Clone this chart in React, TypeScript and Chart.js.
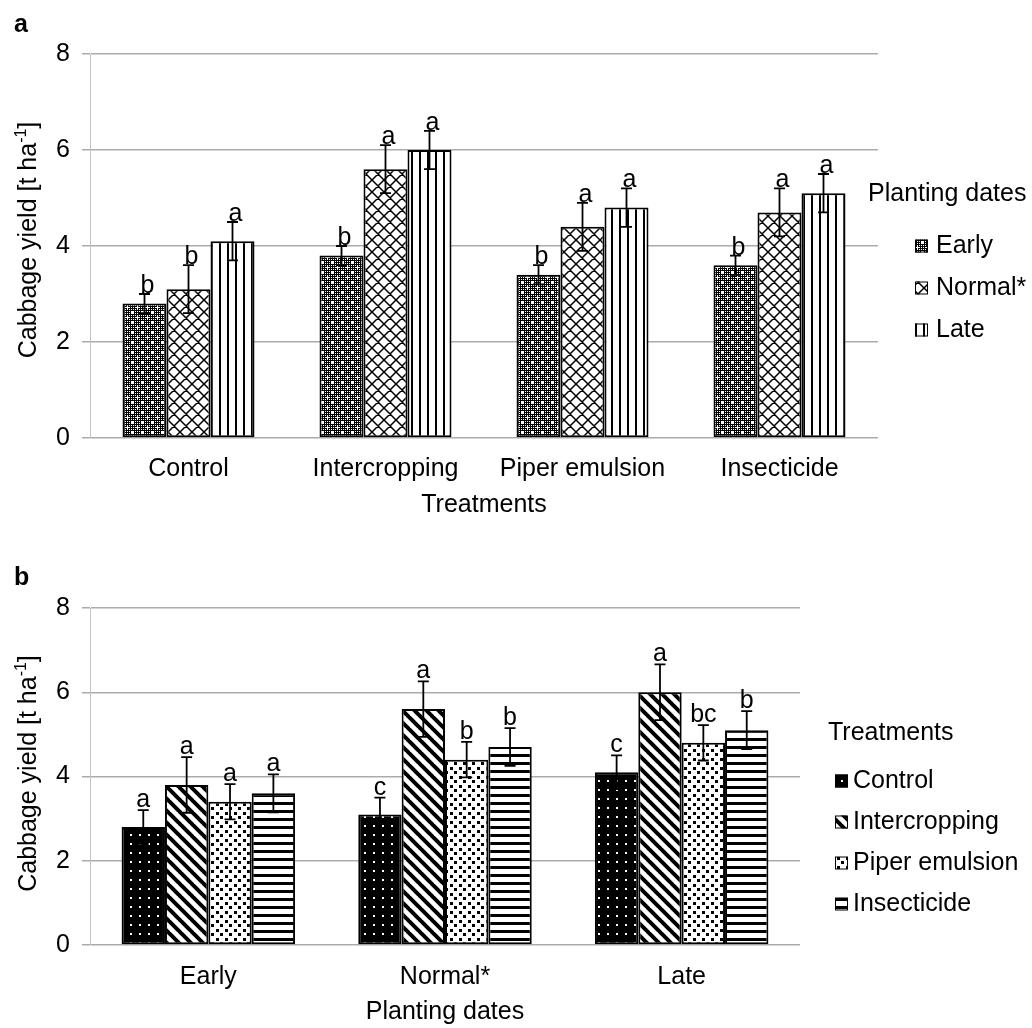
import React, { useEffect, useRef } from 'react';
import { Chart, registerables } from 'chart.js';

Chart.register(...registerables);

const FONT = '"Liberation Sans", Arial, Helvetica, sans-serif';

// ---- data ----
const treatments = ['Control', 'Intercropping', 'Piper emulsion', 'Insecticide'];
const plantingDates = ['Early', 'Normal*', 'Late'];
const yTicks = [0, 2, 4, 6, 8];

// yields by planting date (one value per treatment)
const earlyYield = [2.8, 3.8, 3.4, 3.6];
const normalYield = [3.1, 5.6, 4.4, 4.7];
const lateYield = [4.1, 6.0, 4.8, 5.1];

// panel a error bars (per planting date) and letters
const earlyErrA = [0.2, 0.2, 0.2, 0.2];
const normalErrA = [0.5, 0.5, 0.5, 0.5];
const lateErrA = [0.4, 0.4, 0.4, 0.4];
const earlyLettersA = ['b', 'b', 'b', 'b'];
const normalLettersA = ['b', 'a', 'a', 'a'];
const lateLettersA = ['a', 'a', 'a', 'a'];

// panel b error bars (per treatment) and letters (per planting date)
const controlErrB = [0.4, 0.4, 0.4];
const intercropErrB = [0.66, 0.66, 0.66];
const piperErrB = [0.42, 0.42, 0.42];
const insectErrB = [0.45, 0.45, 0.45];
const controlLettersB = ['a', 'c', 'c'];
const intercropLettersB = ['a', 'a', 'a'];
const piperLettersB = ['a', 'b', 'bc'];
const insectLettersB = ['a', 'b', 'b'];

const yieldsByDate = [earlyYield, normalYield, lateYield];
const byTreatment = (t: number) => yieldsByDate.map((arr) => arr[t]);

// ---- patterns ----
function tile(w: number, h: number, draw: (g: CanvasRenderingContext2D) => void): CanvasPattern {
  const c = document.createElement('canvas');
  c.width = w;
  c.height = h;
  const g = c.getContext('2d')!;
  draw(g);
  return g.createPattern(c, 'repeat')!;
}

function makePatterns() {
  const early = tile(10, 10, (g) => {
    g.fillStyle = '#000';
    g.fillRect(0, 0, 10, 10);
    g.fillStyle = '#fff';
    for (let y = 0; y < 10; y++) for (let x = 0; x < 10; x++) if (x % 2 === 1 && y % 2 === 1) g.fillRect(x, y, 1, 1);
    for (const [cx, cy] of [[2, 2], [7, 7]]) {
      g.fillRect(cx - 1, cy, 3, 1);
      g.fillRect(cx, cy - 1, 1, 3);
    }
  });
  const normal = tile(12, 12, (g) => {
    g.fillStyle = '#fff';
    g.fillRect(0, 0, 12, 12);
    g.strokeStyle = '#000';
    g.lineWidth = 1.5;
    g.beginPath();
    for (const o of [-12, 0, 12]) {
      g.moveTo(o, 0);
      g.lineTo(o + 12, 12);
      g.moveTo(o + 12, 0);
      g.lineTo(o, 12);
    }
    g.stroke();
  });
  const late = tile(8, 8, (g) => {
    g.fillStyle = '#fff';
    g.fillRect(0, 0, 8, 8);
    g.fillStyle = '#000';
    g.fillRect(3, 0, 2, 8);
  });
  const control = tile(9, 9, (g) => {
    g.fillStyle = '#000';
    g.fillRect(0, 0, 9, 9);
    g.fillStyle = '#fff';
    g.fillRect(4, 4, 2, 2);
  });
  const intercrop = tile(12, 12, (g) => {
    g.fillStyle = '#fff';
    g.fillRect(0, 0, 12, 12);
    g.strokeStyle = '#000';
    g.lineWidth = 4;
    g.beginPath();
    for (const o of [-12, 0, 12]) {
      g.moveTo(o - 1, -1);
      g.lineTo(o + 13, 13);
    }
    g.stroke();
  });
  const piper = tile(9, 9, (g) => {
    g.fillStyle = '#fff';
    g.fillRect(0, 0, 9, 9);
    g.fillStyle = '#000';
    g.fillRect(0, 0, 3, 3);
    g.fillRect(4, 4, 3, 3);
  });
  const insect = tile(8, 8, (g) => {
    g.fillStyle = '#fff';
    g.fillRect(0, 0, 8, 8);
    g.fillStyle = '#000';
    g.fillRect(0, 2, 8, 3);
  });
  return { early, normal, late, control, intercrop, piper, insect };
}

// ---- plugins ----
const errBarsPlugin = {
  id: 'errBars',
  afterDatasetsDraw(chart: any, _args: any, o: any) {
    const ctx = chart.ctx;
    const ys = chart.scales.y;
    chart.data.datasets.forEach((ds: any, i: number) => {
      const meta = chart.getDatasetMeta(i);
      meta.data.forEach((el: any, j: number) => {
        const v = ds.data[j];
        const e = ds.errors[j];
        const yt = ys.getPixelForValue(v + e);
        const yb = ys.getPixelForValue(v - e);
        ctx.save();
        ctx.strokeStyle = '#000';
        ctx.lineWidth = 1.8;
        ctx.beginPath();
        ctx.moveTo(el.x, yt);
        ctx.lineTo(el.x, yb);
        ctx.moveTo(el.x - 5.5, yt);
        ctx.lineTo(el.x + 5.5, yt);
        ctx.moveTo(el.x - 5.5, yb);
        ctx.lineTo(el.x + 5.5, yb);
        ctx.stroke();
        ctx.fillStyle = '#000';
        ctx.font = `25px ${FONT}`;
        ctx.textAlign = 'center';
        ctx.textBaseline = 'alphabetic';
        ctx.fillText(ds.letters[j], el.x + o.letterDx, yt - o.letterGap);
        ctx.restore();
      });
    });
  },
};

const decorPlugin = {
  id: 'decor',
  afterDraw(chart: any, _args: any, o: any) {
    const ctx = chart.ctx;
    const ca = chart.chartArea;
    ctx.save();
    ctx.fillStyle = '#000';
    // panel letter
    ctx.font = `bold 25px ${FONT}`;
    ctx.textAlign = 'left';
    ctx.textBaseline = 'alphabetic';
    ctx.fillText(o.panel, 14, o.panelBaseline);
    // x title
    ctx.font = `25px ${FONT}`;
    ctx.textAlign = 'center';
    ctx.textBaseline = 'middle';
    ctx.fillText(o.xTitle, (ca.left + ca.right) / 2, ca.bottom + o.xTitleDy);
    // legend
    ctx.textAlign = 'left';
    ctx.fillText(o.legendTitle, o.legendTitleX, o.legendTitleY);
    chart.data.datasets.forEach((ds: any, i: number) => {
      const yc = o.legendY0 + i * o.legendDy;
      ctx.fillStyle = ds.backgroundColor;
      ctx.fillRect(o.swatchX, yc - 6.5, 13, 13);
      ctx.strokeStyle = '#000';
      ctx.lineWidth = 1;
      ctx.strokeRect(o.swatchX + 0.5, yc - 6, 12, 12);
      ctx.fillStyle = '#000';
      ctx.fillText(ds.label, o.legendTextX, yc);
    });
    // y title (rotated, with superscript)
    ctx.translate(27, (ca.top + ca.bottom) / 2 + o.yTitleDy);
    ctx.rotate(-Math.PI / 2);
    const main = 'Cabbage yield [t ha';
    const sup = '-1';
    const end = ']';
    ctx.font = `25px ${FONT}`;
    const w1 = ctx.measureText(main).width;
    const w3 = ctx.measureText(end).width;
    ctx.font = `16px ${FONT}`;
    const w2 = ctx.measureText(sup).width;
    let x = -(w1 + w2 + w3) / 2;
    ctx.textAlign = 'left';
    ctx.textBaseline = 'alphabetic';
    ctx.font = `25px ${FONT}`;
    ctx.fillText(main, x, 9);
    x += w1;
    ctx.font = `16px ${FONT}`;
    ctx.fillText(sup, x, -1);
    x += w2;
    ctx.font = `25px ${FONT}`;
    ctx.fillText(end, x, 9);
    ctx.restore();
  },
};

function scales(xPad: number) {
  return {
    x: {
      grid: { display: false, drawTicks: false },
      border: { display: false },
      ticks: { font: { family: FONT, size: 25 }, color: '#000', padding: xPad, maxRotation: 0, autoSkip: false },
      afterFit: (s: any) => {
        s.height = 60;
      },
    },
    y: {
      min: 0,
      max: 8,
      afterBuildTicks: (s: any) => {
        s.ticks = yTicks.map((v) => ({ value: v }));
      },
      ticks: { font: { family: FONT, size: 25 }, color: '#000', padding: 12 },
      grid: { color: '#ababab', lineWidth: 1.5, tickLength: 8, drawTicks: true, tickColor: '#ababab' },
      border: { display: true, color: '#c4c4c4', width: 1 },
      afterFit: (s: any) => {
        s.width = 90;
      },
    },
  };
}

export default function App() {
  const refA = useRef<HTMLCanvasElement>(null);
  const refB = useRef<HTMLCanvasElement>(null);

  useEffect(() => {
    const p = makePatterns();
    const barStyle = { borderColor: '#000', borderWidth: 2, borderSkipped: false };

    const chartA = new Chart(refA.current!, {
      type: 'bar',
      data: {
        labels: treatments,
        datasets: [
          { label: plantingDates[0], data: earlyYield, errors: earlyErrA, letters: earlyLettersA, backgroundColor: p.early, ...barStyle },
          { label: plantingDates[1], data: normalYield, errors: normalErrA, letters: normalLettersA, backgroundColor: p.normal, ...barStyle },
          { label: plantingDates[2], data: lateYield, errors: lateErrA, letters: lateLettersA, backgroundColor: p.late, ...barStyle },
        ] as any,
      },
      options: {
        responsive: false,
        animation: false,
        devicePixelRatio: 1,
        layout: { padding: { left: 0, top: 54, right: 154, bottom: 42 } },
        datasets: { bar: { categoryPercentage: 0.67, barPercentage: 1 } },
        plugins: {
          legend: { display: false },
          tooltip: { enabled: false },
          errBars: { letterDx: 3, letterGap: 1 },
          decor: {
            panel: 'a',
            panelBaseline: 32,
            xTitle: 'Treatments',
            xTitleDy: 67,
            yTitleDy: -6,
            legendTitle: 'Planting dates',
            legendTitleX: 868,
            legendTitleY: 194,
            swatchX: 915,
            legendTextX: 936,
            legendY0: 246,
            legendDy: 42,
          },
        } as any,
        scales: scales(16) as any,
      },
      plugins: [errBarsPlugin, decorPlugin],
    });

    const chartB = new Chart(refB.current!, {
      type: 'bar',
      data: {
        labels: plantingDates,
        datasets: [
          { label: treatments[0], data: byTreatment(0), errors: controlErrB, letters: controlLettersB, backgroundColor: p.control, ...barStyle },
          { label: treatments[1], data: byTreatment(1), errors: intercropErrB, letters: intercropLettersB, backgroundColor: p.intercrop, ...barStyle },
          { label: treatments[2], data: byTreatment(2), errors: piperErrB, letters: piperLettersB, backgroundColor: p.piper, ...barStyle },
          { label: treatments[3], data: byTreatment(3), errors: insectErrB, letters: insectLettersB, backgroundColor: p.insect, ...barStyle },
        ] as any,
      },
      options: {
        responsive: false,
        animation: false,
        devicePixelRatio: 1,
        layout: { padding: { left: 0, top: 48, right: 232, bottom: 23 } },
        datasets: { bar: { categoryPercentage: 0.733, barPercentage: 1 } },
        plugins: {
          legend: { display: false },
          tooltip: { enabled: false },
          errBars: { letterDx: 0, letterGap: 3 },
          decor: {
            panel: 'b',
            panelBaseline: 25,
            xTitle: 'Planting dates',
            xTitleDy: 67,
            yTitleDy: -3,
            legendTitle: 'Treatments',
            legendTitleX: 828,
            legendTitleY: 173,
            swatchX: 835,
            legendTextX: 853,
            legendY0: 221,
            legendDy: 41,
          },
        } as any,
        scales: scales(17) as any,
      },
      plugins: [errBarsPlugin, decorPlugin],
    });

    return () => {
      chartA.destroy();
      chartB.destroy();
    };
  }, []);

  return (
    <div style={{ position: 'absolute', left: 0, top: 0, width: 1032, height: 1028, background: '#fff' }}>
      <canvas ref={refA} width={1032} height={540} style={{ position: 'absolute', left: 0, top: 0 }} />
      <canvas ref={refB} width={1032} height={468} style={{ position: 'absolute', left: 0, top: 560 }} />
    </div>
  );
}
